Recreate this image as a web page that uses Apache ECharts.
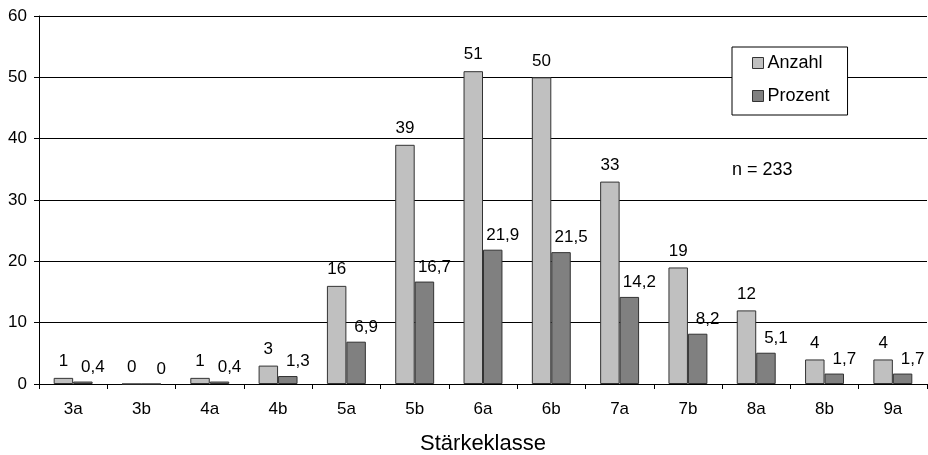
<!DOCTYPE html>
<html>
<head>
<meta charset="utf-8">
<script src="https://cdn.jsdelivr.net/npm/echarts@6/dist/echarts.min.js"></script>
<style>html,body{margin:0;padding:0;background:#fff}#c{width:928px;height:455px}</style>
</head>
<body>
<div id="c"></div>
<script>
const categories = ['3a','3b','4a','4b','5a','5b','6a','6b','7a','7b','8a','8b','9a'];
const anzahl = [1,0,1,3,16,39,51,50,33,19,12,4,4];
const prozent = [0.4,0,0.4,1.3,6.9,16.7,21.9,21.5,14.2,8.2,5.1,1.7,1.7];
const yTicks = [0,10,20,30,40,50,60];
const seriesNames = ['Anzahl','Prozent'];
const xAxisTitle = 'Stärkeklasse';
const noteText = 'n = 233';

const FONT = '"Liberation Sans", Arial, Helvetica, sans-serif';
const chart = echarts.init(document.getElementById('c'));
const fmt = p => String(p.value).replace('.', ',');
chart.setOption({
  animation: false,
  textStyle: {fontFamily: FONT},
  grid: {left: 39, right: 1, top: 16, bottom: 71, containLabel: false, outerBoundsMode: 'none'},
  legend: {
    data: seriesNames,
    orient: 'vertical',
    left: 732, top: 47,
    padding: [7, 18, 10, 20],
    itemGap: 15,
    itemWidth: 11, itemHeight: 11,
    itemStyle: {borderColor: '#333', borderWidth: 1},
    backgroundColor: '#fff',
    borderColor: '#000', borderWidth: 1,
    textStyle: {fontSize: 18, color: '#000', fontFamily: FONT, padding: [0, 0, 0, -1]},
    icon: 'rect'
  },
  graphic: [{
    type: 'text', left: 732, top: 161,
    style: {text: noteText, fontSize: 18, fill: '#000', fontFamily: FONT}
  }],
  xAxis: {
    type: 'category',
    data: categories,
    boundaryGap: true,
    name: xAxisTitle,
    nameLocation: 'middle',
    nameGap: 49,
    nameTextStyle: {fontSize: 22, color: '#000', fontFamily: FONT},
    axisLine: {lineStyle: {color: '#000', width: 1}},
    axisTick: {show: true, length: 5, lineStyle: {color: '#000'}},
    axisLabel: {fontSize: 17, color: '#000', margin: 17, fontFamily: FONT}
  },
  yAxis: {
    type: 'value',
    min: yTicks[0], max: yTicks[yTicks.length - 1], interval: 10,
    axisLine: {show: true, lineStyle: {color: '#000', width: 1}},
    axisTick: {show: true, length: 5, lineStyle: {color: '#000'}},
    axisLabel: {fontSize: 17, color: '#000', margin: 12, fontFamily: FONT},
    splitLine: {show: true, lineStyle: {color: '#000', width: 1}}
  },
  series: [
    {
      name: seriesNames[0], type: 'bar', data: anzahl,
      barGap: '0%', barCategoryGap: '43%',
      itemStyle: {color: '#c0c0c0', borderColor: '#333', borderWidth: 1},
      label: {show: true, position: 'top', distance: 8, fontSize: 17, color: '#000', formatter: fmt, fontFamily: FONT}
    },
    {
      name: seriesNames[1], type: 'bar', data: prozent,
      barGap: '0%', barCategoryGap: '43%',
      itemStyle: {color: '#808080', borderColor: '#333', borderWidth: 1},
      label: {show: true, position: 'top', distance: 6, offset: [10, 0], fontSize: 17, color: '#000', formatter: fmt, fontFamily: FONT}
    }
  ]
});
</script>
</body>
</html>
